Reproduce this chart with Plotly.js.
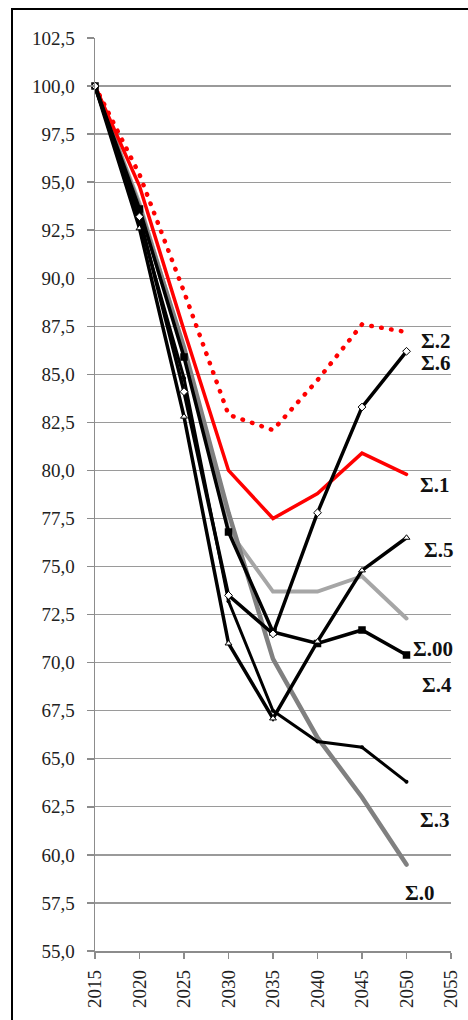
<!DOCTYPE html>
<html><head><meta charset="utf-8">
<script src="https://cdn.plot.ly/plotly-3.0.1.min.js"></script>
<style>
html,body{margin:0;padding:0;background:#fff;overflow:hidden;width:468px;height:1020px}
#chart{position:absolute;left:0;top:0;width:468px;height:1020px}
#frame{position:absolute;left:11px;top:8px;width:480px;height:1040px;border:2px solid #000;pointer-events:none}
path.js-line{stroke-linecap:round}
</style></head><body>
<div id="chart"></div><div id="frame"></div>
<script>
const years = [2015, 2020, 2025, 2030, 2035, 2040, 2045, 2050];
const sigma0  = [100, 93.7, 86.4, 77.8, 70.2, 66.1, 63.0, 59.5];
const sigma1  = [100, 94.8, 87.3, 80.0, 77.5, 78.8, 80.9, 79.8];
const sigma2  = [100, 95.4, 89.3, 82.9, 82.1, 84.7, 87.6, 87.2];
const sigma3  = [100, 93.0, 84.8, 73.2, 67.5, 65.9, 65.6, 63.8];
const sigma4  = [100, 93.9, 86.3, 76.9, 73.7, 73.7, 74.5, 72.3];
const sigma5  = [100, 92.6, 82.8, 71.0, 67.1, 71.1, 74.8, 76.5];
const sigma6  = [100, 93.2, 84.1, 73.5, 71.5, 77.8, 83.3, 86.2];
const sigma00 = [100, 93.6, 85.9, 76.8, 71.6, 71.0, 71.7, 70.4];

const labelNames = ['Σ.2', 'Σ.6', 'Σ.1', 'Σ.5', 'Σ.00', 'Σ.4', 'Σ.3', 'Σ.0'];
const labelX = [2053.3, 2053.3, 2053.2, 2053.6, 2053.0, 2053.4, 2053.2, 2051.5];
const labelY = [86.75, 85.6, 79.25, 75.87, 70.72, 68.85, 61.83, 58.04];

const xTicks = [2015, 2020, 2025, 2030, 2035, 2040, 2045, 2050, 2055];

const W = 3.5;
const traces = [
  {y: sigma4, line: {color: '#a6a6a6', width: 4}, mode: 'lines'},
  {y: sigma0, line: {color: '#808080', width: 4.5}, mode: 'lines'},
  {y: sigma2, line: {color: '#ff0000', width: 4.5, dash: '0.5px,9.5px'}, mode: 'lines'},
  {y: sigma1, line: {color: '#ff0000', width: W}, mode: 'lines'},
  {y: sigma3, line: {color: '#000', width: 3}, mode: 'lines+markers', marker: {symbol: 'circle', size: 4, color: '#000'}},
  {y: sigma00, line: {color: '#000', width: W}, mode: 'lines+markers', marker: {symbol: 'square', size: 6, color: ['#fff','#000','#000','#000','#000','#000','#000','#000'], line: {color: '#000', width: 1.5}}},
  {y: sigma5, line: {color: '#000', width: W}, mode: 'lines+markers', marker: {symbol: 'triangle-up', size: 6, color: '#fff', line: {color: '#000', width: 1}}},
  {y: sigma6, line: {color: '#000', width: W}, mode: 'lines+markers', marker: {symbol: 'diamond', size: 6, color: '#fff', line: {color: '#000', width: 1}}}
].map(t => Object.assign({x: years, type: 'scatter', hoverinfo: 'skip', showlegend: false, cliponaxis: false}, t));

const serif = '"Liberation Serif", "Times New Roman", serif';
const tickFont = {family: serif, size: 19, color: '#222'};

const annotations = labelNames.map((n, i) => ({
  x: labelX[i], y: labelY[i], xref: 'x', yref: 'y', text: '<b>' + n + '</b>',
  showarrow: false, xanchor: 'center', yanchor: 'middle',
  font: {family: serif, size: 21, color: '#111'}
}));

const layout = {
  width: 468, height: 1020,
  margin: {l: 95, r: 17, t: 38, b: 69, pad: 0},
  paper_bgcolor: '#fff', plot_bgcolor: '#fff',
  separators: ',.',
  showlegend: false, hovermode: false,
  xaxis: {
    range: [2015, 2055], tickvals: xTicks, ticktext: xTicks.map(String), tickangle: -90,
    ticks: 'outside', ticklen: 6, tickwidth: 1.5, tickcolor: '#8c8c8c',
    showline: true, linecolor: '#8c8c8c', linewidth: 1.5,
    showgrid: false, zeroline: false, tickfont: tickFont, ticklabelstandoff: 4
  },
  yaxis: {
    range: [55, 102.5], tick0: 55, dtick: 2.5, tickformat: '.1f',
    ticks: 'outside', ticklen: 7, tickwidth: 1.5, tickcolor: '#8c8c8c',
    showline: true, linecolor: '#8c8c8c', linewidth: 1.5,
    showgrid: true, gridcolor: '#9a9a9a', gridwidth: 1.3,
    zeroline: false, tickfont: tickFont, ticklabelstandoff: 8
  },
  annotations: annotations
};

Plotly.newPlot('chart', traces, layout, {staticPlot: true, displayModeBar: false});
</script>
</body></html>
